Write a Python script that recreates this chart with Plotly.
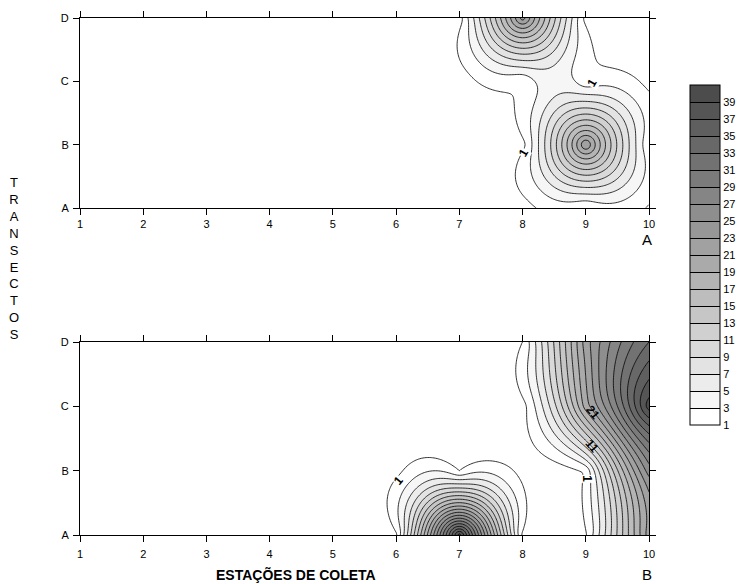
import numpy as np
import plotly.graph_objects as go

# ---- data (station values, rows = transects A..D, cols = stations 1..10) ----
stations = [1, 2, 3, 4, 5, 6, 7, 8, 9, 10]
transects = ["A", "B", "C", "D"]

panel_a_A = [0, 0, 0, 0, 0, 0, 0, 0.2, 1.0, 0.8]
panel_a_B = [0, 0, 0, 0, 0, 0, 0, 0.3, 23, 1.3]
panel_a_C = [0, 0, 0, 0, 0, 0, 0, 1.3, 1.6, 0.4]
panel_a_D = [0, 0, 0, 0, 0, 0, 0, 24, 0.3, 0]

panel_b_A = [0, 0, 0, 0, 0, 0.6, 40, 0.6, 0.8, 22]
panel_b_B = [0, 0, 0, 0, 0, 0.4, 1.0, 0.4, 1.4, 26]
panel_b_C = [0, 0, 0, 0, 0, 0, 0, 0.2, 20, 40]
panel_b_D = [0, 0, 0, 0, 0, 0, 0, 1.0, 22, 33]

levels_start, levels_end, levels_step = 1, 39, 2
colorbar_ticks = list(range(1, 40, 2))

# ---- gridding: ordinary kriging with a linear variogram (dual form) ----
gx, gy = np.meshgrid(np.arange(10, dtype=float), np.arange(4, dtype=float))
nodes = np.column_stack([gx.ravel(), gy.ravel()])
n_nodes = len(nodes)
D = np.sqrt(((nodes[:, None, :] - nodes[None, :, :]) ** 2).sum(-1))
K = np.zeros((n_nodes + 1, n_nodes + 1))
K[:n_nodes, :n_nodes] = D
K[:n_nodes, n_nodes] = 1
K[n_nodes, :n_nodes] = 1

xf = np.linspace(0, 9, 361)
yf = np.linspace(0, 3, 121)
FX, FY = np.meshgrid(xf, yf)
fine = np.column_stack([FX.ravel(), FY.ravel()])
Df = np.sqrt(((fine[:, None, :] - nodes[None, :, :]) ** 2).sum(-1))


def surface(rows):
    v = np.array(rows, dtype=float).ravel()
    sol = np.linalg.solve(K, np.concatenate([v, [0.0]]))
    return (Df @ sol[:n_nodes] + sol[n_nodes]).reshape(FX.shape)


za = surface([panel_a_A, panel_a_B, panel_a_C, panel_a_D])
zb = surface([panel_b_A, panel_b_B, panel_b_C, panel_b_D])

xs = xf + 1
ys = yf

# grey ramp: value domain [0, 40] (plotly maps start-size/2 .. end+size/2)
dark = np.array([0x4c, 0x4c, 0x4c])
white = np.array([255, 255, 255])


def grey(t):
    t = min(max((t - 0.05) / 0.95, 0), 1)
    c = (white + (dark - white) * t).round().astype(int)
    return "rgb(%d,%d,%d)" % tuple(c)


colorscale = [[0, grey(0)], [0.05, grey(0.05)], [1, grey(1)]]
contours = dict(start=levels_start, end=levels_end, size=levels_step, coloring="fill", showlines=True)

# discrete scale for the legend bar: bands 1-3, 3-5, ..., 39-41
n_bands = len(colorbar_ticks)
bar_scale = []
for k in range(n_bands):
    col = grey((colorbar_ticks[k] + 1) / 40.0)
    bar_scale.append([k / n_bands, col])
    bar_scale.append([(k + 1) / n_bands, col])

W, H = 740, 584
L, R, T, Bm = 80, 649, 18, 535          # plot-area edges in pixels
PW, PH = R - L, Bm - T


def fx(p):
    return (p - L) / PW


def fy(p):
    return (Bm - p) / PH


fig = go.Figure()
fig.add_trace(go.Contour(x=xs, y=ys, z=za, contours=contours, colorscale=colorscale,
                         line=dict(color="black", width=0.8), showscale=False,
                         xaxis="x", yaxis="y", hoverinfo="skip"))
fig.add_trace(go.Contour(x=xs, y=ys, z=zb, contours=contours, colorscale=colorscale,
                         line=dict(color="black", width=0.8), showscale=False,
                         xaxis="x2", yaxis="y2", hoverinfo="skip"))
# legend bar (trace sits outside its hidden axis range, only its colour bar shows)
fig.add_trace(go.Heatmap(z=[[levels_start, levels_end + 2]], x=[0, 1], y=[0], zmin=levels_start,
                         zmax=levels_end + levels_step, colorscale=bar_scale, xaxis="x3", yaxis="y3",
                         hoverinfo="skip",
                         colorbar=dict(x=fx(690), xanchor="left", y=fy(255), yanchor="middle",
                                       lenmode="pixels", len=340, thickness=30,
                                       outlinecolor="black", outlinewidth=1,
                                       tickvals=colorbar_ticks, ticks="inside", ticklen=30,
                                       tickcolor="black", tickwidth=1,
                                       tickfont=dict(size=11, color="black"), xpad=0, ypad=0)))

axis_common = dict(showline=True, linecolor="black", linewidth=1, mirror="ticks",
                   ticks="outside", ticklen=6, tickcolor="black", showgrid=False, zeroline=False,
                   automargin=False, tickfont=dict(size=11, color="black"))

fig.update_layout(
    template="none",
    width=W, height=H, margin=dict(l=L, r=W - R, t=T, b=H - Bm, autoexpand=False),
    paper_bgcolor="white", plot_bgcolor="white",
    font=dict(family="Liberation Sans, Arial, sans-serif", color="black"),
    showlegend=False,
    xaxis=dict(domain=[0, 1], range=[1, 10], tickvals=stations, anchor="y", **axis_common),
    yaxis=dict(domain=[fy(208), 1], range=[0, 3], tickvals=[0, 1, 2, 3], ticktext=transects,
               anchor="x", ticklabelstandoff=2, **axis_common),
    xaxis2=dict(domain=[0, 1], range=[1, 10], tickvals=stations, anchor="y2",
                ticklabelstandoff=3, **axis_common),
    yaxis2=dict(domain=[0, fy(342)], range=[0, 3], tickvals=[0, 1, 2, 3], ticktext=transects,
                anchor="x2", ticklabelstandoff=2, **axis_common),
    xaxis3=dict(domain=[0, 0.01], range=[5, 6], visible=False, anchor="y3"),
    yaxis3=dict(domain=[0, 0.01], range=[5, 6], visible=False, anchor="x3"),
)

ann = []
ann.append(dict(text="T<br>R<br>A<br>N<br>S<br>E<br>C<br>T<br>O<br>S", xref="paper", yref="paper",
                x=fx(14), y=fy(258), showarrow=False, font=dict(size=13), align="center"))
ann.append(dict(text="A", xref="paper", yref="paper", x=fx(647), y=fy(239), showarrow=False,
                font=dict(size=15)))
ann.append(dict(text="B", xref="paper", yref="paper", x=fx(647), y=fy(574), showarrow=False,
                font=dict(size=15)))
ann.append(dict(text="<b>ESTAÇÕES DE COLETA</b>", xref="paper", yref="paper", x=fx(296), y=fy(574),
                showarrow=False, font=dict(size=14)))
for a in ann:
    a["xanchor"] = "center"
    a["yanchor"] = "middle"
# contour labels
for (xr, yr, x, y, t, ang, bg) in [("x", "y", 9.1, 1.97, "1", -60, "#ffffff"),
                                   ("x", "y", 8.01, 0.87, "1", -60, "#ffffff"),
                                   ("x2", "y2", 6.03, 0.84, "1", -50, "#ffffff"),
                                   ("x2", "y2", 9.02, 0.88, "1", 90, "#ffffff"),
                                   ("x2", "y2", 9.1, 1.39, "11", 50, None),
                                   ("x2", "y2", 9.12, 1.9, "21", 50, None)]:
    a = dict(text="<b>%s</b>" % t, xref=xr, yref=yr, x=x, y=y, showarrow=False, textangle=ang,
             font=dict(size=12), borderpad=0)
    if bg:
        a["bgcolor"] = bg
    ann.append(a)
fig.update_layout(annotations=ann)

fig.write_html("out.html", config={"displayModeBar": False},
               post_script="document.body.style.margin='0';")
